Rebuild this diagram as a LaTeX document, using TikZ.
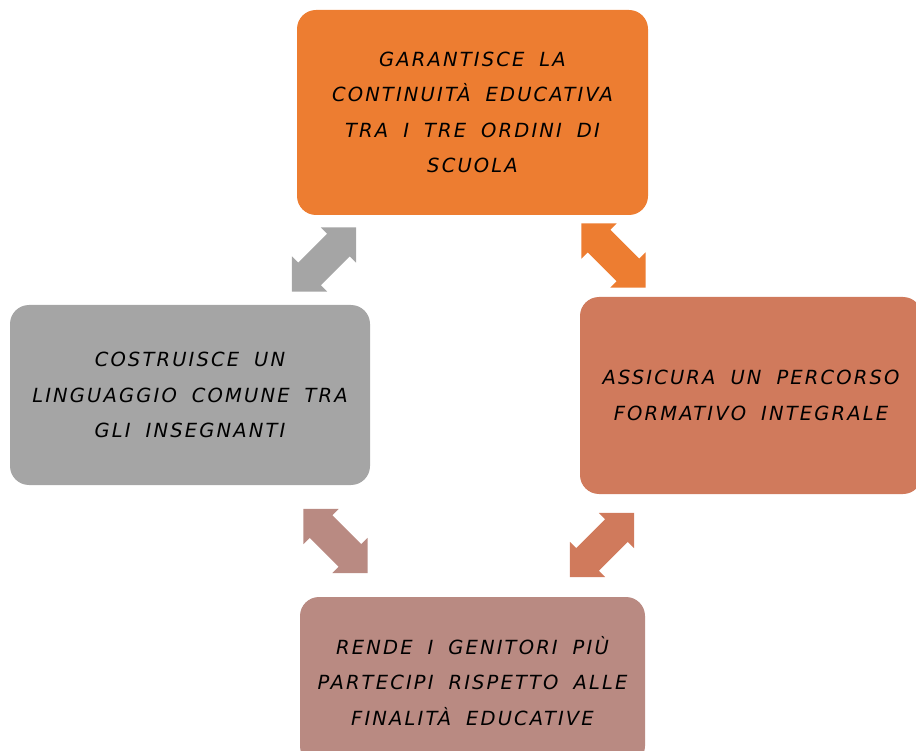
\documentclass[tikz,border=0pt]{standalone}
\usepackage{fontspec}
\newfontfamily\hand[LetterSpace=11,WordSpace=1.8]{DejaVu Sans}
\definecolor{cOrange}{HTML}{ED7D31}
\definecolor{cGray}{HTML}{A5A5A5}
\definecolor{cCoral}{HTML}{D07A5C}
\definecolor{cRose}{HTML}{B98A82}
\tikzset{
  box/.style={rounded corners=19pt, inner sep=0pt, align=center,
    font=\hand\itshape\fontsize{19.5}{35.5}\selectfont, text=black},
  blockarrow/.pic={
    \fill[pic actions] (45.5,0) -- (20.5,25) -- (20.5,16) -- (-20.5,16) -- (-20.5,25)
      -- (-45.5,0) -- (-20.5,-25) -- (-20.5,-16) -- (20.5,-16) -- (20.5,-25) -- cycle;
  }
}
\begin{document}
\begin{tikzpicture}[x=1pt,y=-1pt]
\useasboundingbox (0,0) rectangle (916,751);
\clip (0,0) rectangle (916,751);
\node[box, fill=cOrange, minimum width=351pt, minimum height=205pt] (top) at (472.5,112.5)
  {GARANTISCE LA\\CONTINUITÀ EDUCATIVA\\TRA I TRE ORDINI DI\\SCUOLA};
\node[box, fill=cGray, minimum width=360pt, minimum height=180pt] (left) at (190,395)
  {COSTRUISCE UN\\LINGUAGGIO COMUNE TRA\\GLI INSEGNANTI};
\node[box, fill=cCoral, minimum width=342pt, minimum height=197pt] (right) at (751,395.5)
  {ASSICURA UN PERCORSO\\FORMATIVO INTEGRALE};
\node[box, fill=cRose, minimum width=345pt, minimum height=168pt] (bottom) at (472.5,681)
  {RENDE I GENITORI PIÙ\\PARTECIPI RISPETTO ALLE\\FINALITÀ EDUCATIVE};
\pic[fill=cGray, shift={(324,259.5)}, rotate=45] (a1) {blockarrow};
\pic[fill=cOrange, shift={(613.5,255.5)}, rotate=-45] (a2) {blockarrow};
\pic[fill=cRose, shift={(335.5,541)}, rotate=-45] (a3) {blockarrow};
\pic[fill=cCoral, shift={(602,545)}, rotate=45] (a4) {blockarrow};
\end{tikzpicture}
\end{document}
